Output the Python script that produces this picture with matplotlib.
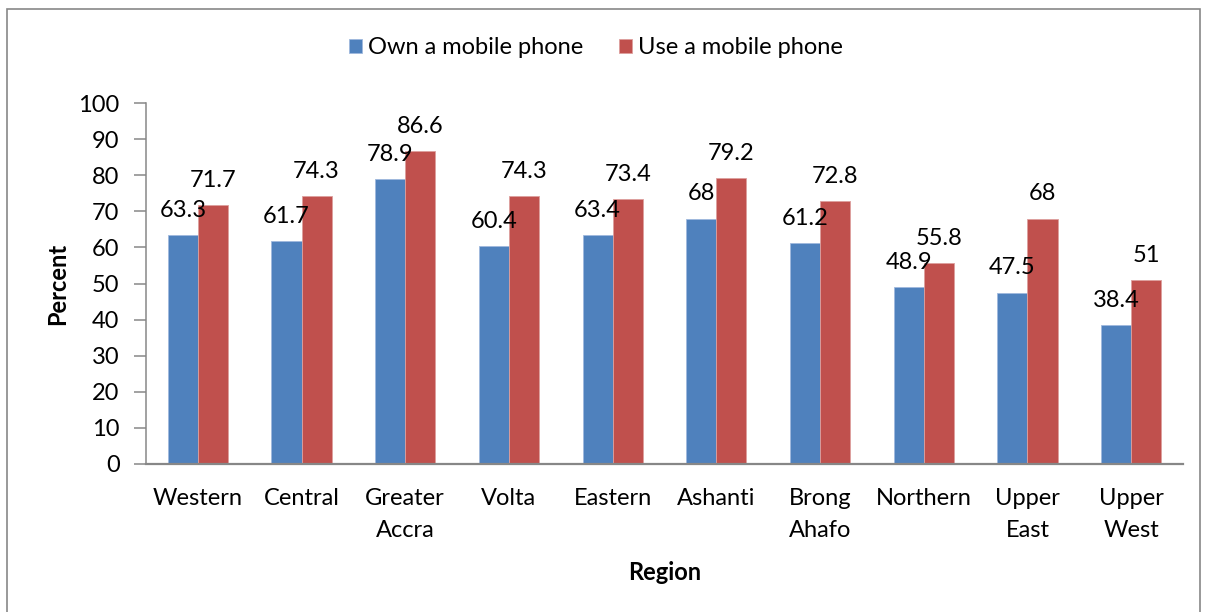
import matplotlib
matplotlib.use("Agg")
import matplotlib.pyplot as plt
import numpy as np
from matplotlib.patches import Rectangle

# data
regions = ["Western", "Central", "Greater\nAccra", "Volta", "Eastern",
           "Ashanti", "Brong\nAhafo", "Northern", "Upper\nEast", "Upper\nWest"]
own_phone = [63.3, 61.7, 78.9, 60.4, 63.4, 68, 61.2, 48.9, 47.5, 38.4]
use_phone = [71.7, 74.3, 86.6, 74.3, 73.4, 79.2, 72.8, 55.8, 68, 51]
series_names = ["Own a mobile phone", "Use a mobile phone"]
y_ticks = list(range(0, 101, 10))

BLUE = "#4F81BD"
RED = "#C0504D"
AXIS_GREY = "#878787"
FS = 17

plt.rcParams["font.family"] = ["Lato", "DejaVu Sans"]

fig = plt.figure(figsize=(12.05, 6.12), dpi=100)
ax = fig.add_axes([146 / 1205, 1 - 464 / 612, 1037 / 1205, 361 / 612])

x = np.arange(len(regions))
w = 0.29
b1 = ax.bar(x - w / 2, own_phone, w, color=BLUE, edgecolor="#9fb9dd", linewidth=0.6,
            label=series_names[0])
b2 = ax.bar(x + w / 2, use_phone, w, color=RED, edgecolor="#dd9f9d", linewidth=0.6,
            label=series_names[1])

# value labels above each bar
for bars in (b1, b2):
    for r in bars:
        v = r.get_height()
        ax.annotate(f"{v:g}", (r.get_x() + r.get_width() / 2, v),
                    xytext=(0, 13), textcoords="offset points",
                    ha="center", va="baseline", fontsize=FS, color="black")

ax.set_xlim(-0.5, len(regions) - 0.5)
ax.set_ylim(0, 100)
ax.set_yticks(y_ticks)
ax.set_xticks(x)
ax.set_xticklabels(regions, fontsize=FS, va="top", linespacing=1.65)
ax.tick_params(axis="x", length=0, pad=17.5)
ax.tick_params(axis="y", direction="out", length=9, width=1.1, color=AXIS_GREY,
               labelsize=FS, pad=10)

for s in ("top", "right"):
    ax.spines[s].set_visible(False)
ax.spines["left"].set_color(AXIS_GREY)
ax.spines["left"].set_linewidth(1.1)
ax.spines["bottom"].set_color(AXIS_GREY)
ax.spines["bottom"].set_linewidth(1.6)

ax.set_ylabel("Percent", fontsize=FS, fontweight="bold", va="center")
ax.yaxis.set_label_coords((58 - 146) / 1037, 0.5)
ax.set_xlabel("Region", fontsize=FS, fontweight="bold", va="center")
ax.xaxis.set_label_coords(0.5, (464 - 572) / 361)

fig.legend(loc="center", bbox_to_anchor=(596 / 1205, 1 - 48 / 612), ncol=2,
           frameon=False, fontsize=FS, handlelength=0.55, handleheight=0.55,
           handletextpad=0.25, columnspacing=1.5)

# chart area border
fig.patches.append(Rectangle((7 / 1205, -0.05), 1192.5 / 1205, 1.05 - 8.5 / 612,
                             transform=fig.transFigure, fill=False,
                             edgecolor=AXIS_GREY, linewidth=1.2))

fig.savefig("out.png", dpi=100)
